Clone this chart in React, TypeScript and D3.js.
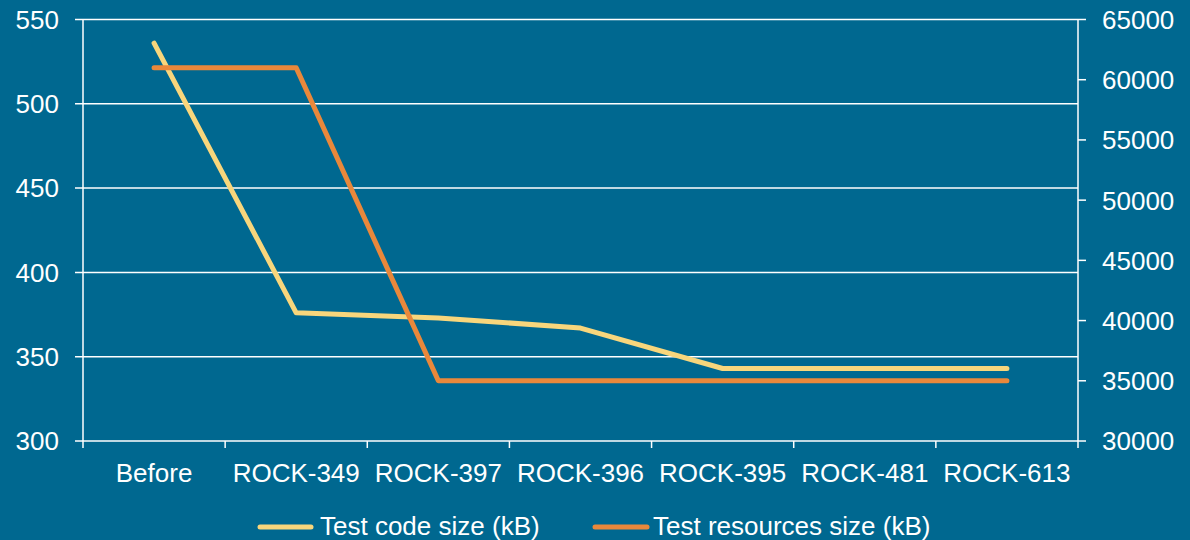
import React from "react";
import * as d3 from "d3";

const categories = ["Before", "ROCK-349", "ROCK-397", "ROCK-396", "ROCK-395", "ROCK-481", "ROCK-613"];
const codeSize = [536, 376, 373, 367, 343, 343, 343];
const resourcesSize = [61000, 61000, 35000, 35000, 35000, 35000, 35000];
const leftTicks = [300, 350, 400, 450, 500, 550];
const rightTicks = [30000, 35000, 40000, 45000, 50000, 55000, 60000, 65000];
const seriesNames = ["Test code size (kB)", "Test resources size (kB)"];

const W = 1190, H = 540;
const left = 83, right = 1078, top = 19.5, bottom = 441;
const BG = "#006890";
const YELLOW = "#F8D67C";
const ORANGE = "#E9883B";
const FONT = "Liberation Sans, Arial, sans-serif";
const FS = 26;

export default function App() {
  const x = d3.scaleBand<string>().domain(categories).range([left, right]);
  const yL = d3.scaleLinear().domain([300, 550]).range([bottom, top]);
  const yR = d3.scaleLinear().domain([30000, 65000]).range([bottom, top]);
  const cx = (c: string) => (x(c) as number) + x.bandwidth() / 2;

  const lineL = d3.line<number>().x((_, i) => cx(categories[i])).y((d) => yL(d));
  const lineR = d3.line<number>().x((_, i) => cx(categories[i])).y((d) => yR(d));

  const boundaries = [...categories.map((c) => x(c) as number), right];

  return (
    <svg width={W} height={H} style={{ position: "absolute", left: 0, top: 0, background: BG }}>
      <rect x={0} y={0} width={W} height={H} fill={BG} />
      {leftTicks.map((t) => (
        <line key={"g" + t} x1={left - 8} x2={right} y1={yL(t)} y2={yL(t)} stroke="#fff" strokeWidth={1.5} />
      ))}
      {leftTicks.map((t) => (
        <text key={"l" + t} x={59} y={yL(t)} dy="0.36em" textAnchor="end" fill="#fff" fontFamily={FONT} fontSize={FS}>
          {t}
        </text>
      ))}
      <line x1={left} x2={left} y1={top} y2={bottom} stroke="#fff" strokeWidth={1.5} />
      <line x1={right} x2={right} y1={top} y2={bottom} stroke="#fff" strokeWidth={1.5} />
      {rightTicks.map((t) => (
        <g key={"r" + t}>
          <line x1={right} x2={right + 8} y1={yR(t)} y2={yR(t)} stroke="#fff" strokeWidth={1.5} />
          <text x={1102} y={yR(t)} dy="0.36em" textAnchor="start" fill="#fff" fontFamily={FONT} fontSize={FS}>
            {t}
          </text>
        </g>
      ))}
      {boundaries.map((b, i) => (
        <line key={"xt" + i} x1={b} x2={b} y1={bottom} y2={bottom + 7} stroke="#fff" strokeWidth={1.5} />
      ))}
      {categories.map((c) => (
        <text key={"x" + c} x={cx(c)} y={482} textAnchor="middle" fill="#fff" fontFamily={FONT} fontSize={FS}>
          {c}
        </text>
      ))}
      <path d={lineL(codeSize) || ""} fill="none" stroke={YELLOW} strokeWidth={5} strokeLinecap="round" strokeLinejoin="round" />
      <path d={lineR(resourcesSize) || ""} fill="none" stroke={ORANGE} strokeWidth={5} strokeLinecap="round" strokeLinejoin="round" />
      <line x1={260} x2={311} y1={527} y2={527} stroke={YELLOW} strokeWidth={5} strokeLinecap="round" />
      <text x={320} y={535} fill="#fff" fontFamily={FONT} fontSize={FS}>{seriesNames[0]}</text>
      <line x1={595} x2={647} y1={527} y2={527} stroke={ORANGE} strokeWidth={5} strokeLinecap="round" />
      <text x={653} y={535} fill="#fff" fontFamily={FONT} fontSize={FS}>{seriesNames[1]}</text>
    </svg>
  );
}
